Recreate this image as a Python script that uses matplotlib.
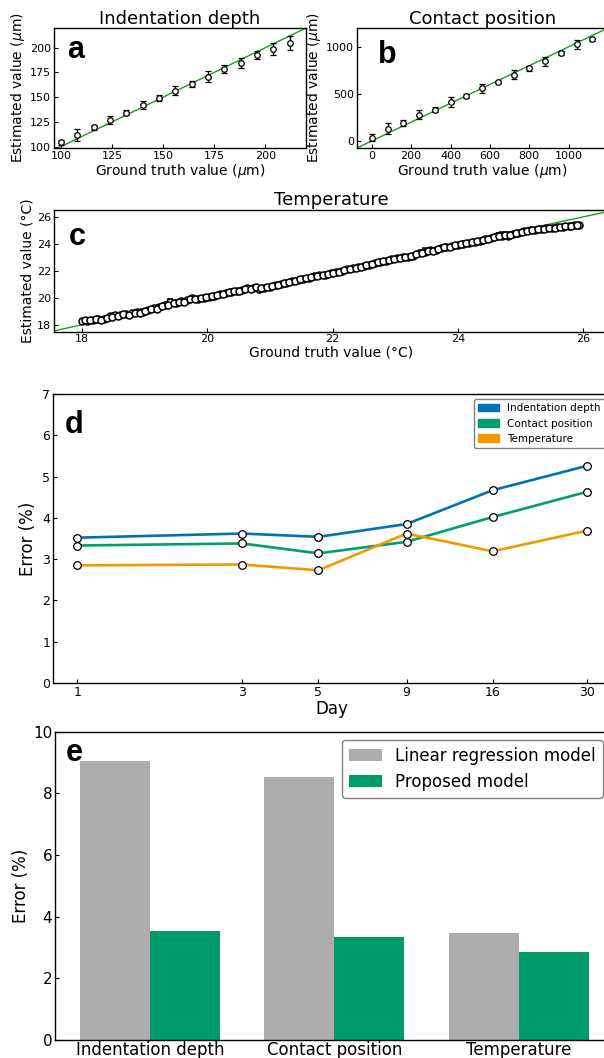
import numpy as np
import matplotlib
matplotlib.use('Agg')
import matplotlib.pyplot as plt
from matplotlib.patches import Patch
from matplotlib.ticker import NullLocator

# panel a: indentation depth
depth_true = [100, 108, 116, 124, 132, 140, 148, 156, 164, 172, 180, 188, 196, 204, 212]
depth_est = [104.1, 111.5, 119.3, 126.8, 134.2, 142.0, 149.2, 156.6, 163.4, 170.8, 178.6, 185.0, 192.9, 198.6, 204.7]
depth_err = [2.4, 6.0, 2.7, 4.2, 2.7, 3.7, 2.7, 4.6, 3.4, 5.3, 3.7, 5.0, 3.9, 6.3, 6.8]

# panel b: contact position
pos_true = [0, 80, 160, 240, 320, 400, 480, 560, 640, 720, 800, 880, 960, 1040, 1120]
pos_est = [35, 130, 193, 280, 333, 414, 477, 558, 628, 702, 772, 846, 930, 1025, 1081]
pos_err = [35, 60, 30, 45, 28, 55, 18, 50, 12, 48, 28, 50, 22, 52, 18]

# panel c: temperature (two interleaved runs)
temp_true = [18.00, 18.08, 18.17, 18.26, 18.35, 18.44, 18.52, 18.61, 18.70, 18.79,
             18.88, 18.97, 19.05, 19.14, 19.23, 19.32, 19.41, 19.50, 19.58, 19.67,
             19.76, 19.85, 19.94, 20.03, 20.11, 20.20, 20.29, 20.38, 20.47, 20.56,
             20.64, 20.73, 20.82, 20.91, 21.00, 21.09, 21.17, 21.26, 21.35, 21.44,
             21.53, 21.62, 21.70, 21.79, 21.88, 21.97, 22.06, 22.15, 22.23, 22.32,
             22.41, 22.50, 22.59, 22.68, 22.76, 22.85, 22.94, 23.03, 23.12, 23.21,
             23.29, 23.38, 23.47, 23.56, 23.65, 23.74, 23.82, 23.91, 24.00, 24.09,
             24.18, 24.27, 24.35, 24.44, 24.53, 24.62, 24.71, 24.80, 24.88, 24.97,
             25.06, 25.15, 25.24, 25.33, 25.41, 25.50, 25.59, 25.68, 25.77, 25.86,
             25.93]
temp_est = [18.30, 18.28, 18.36, 18.40, 18.45, 18.62, 18.70, 18.74, 18.80, 18.86,
            18.92, 18.95, 19.10, 19.22, 19.32, 19.45, 19.68, 19.62, 19.75, 19.82,
            19.95, 19.92, 20.00, 20.06, 20.15, 20.30, 20.38, 20.45, 20.48, 20.55,
            20.70, 20.72, 20.68, 20.75, 20.80, 20.92, 21.02, 21.12, 21.25, 21.32,
            21.42, 21.50, 21.58, 21.66, 21.72, 21.82, 21.90, 22.00, 22.10, 22.20,
            22.28, 22.36, 22.45, 22.55, 22.66, 22.76, 22.86, 22.92, 23.00, 23.05,
            23.12, 23.30, 23.42, 23.55, 23.52, 23.70, 23.78, 23.85, 23.95, 24.02,
            24.08, 24.15, 24.25, 24.35, 24.42, 24.55, 24.62, 24.60, 24.72, 24.82,
            24.92, 25.00, 25.05, 25.10, 25.15, 25.18, 25.22, 25.28, 25.32, 25.38,
            25.42]
temp_err = [0.10, 0.12, 0.10, 0.15, 0.12, 0.10, 0.14, 0.12, 0.18, 0.12,
            0.15, 0.20, 0.12, 0.10, 0.15, 0.12, 0.20, 0.15, 0.12, 0.10,
            0.15, 0.12, 0.10, 0.14, 0.12, 0.15, 0.10, 0.12, 0.15, 0.12,
            0.18, 0.15, 0.12, 0.15, 0.10, 0.12, 0.10, 0.12, 0.15, 0.10,
            0.12, 0.10, 0.14, 0.12, 0.10, 0.12, 0.10, 0.12, 0.10, 0.12,
            0.10, 0.12, 0.10, 0.10, 0.12, 0.10, 0.12, 0.10, 0.10, 0.12,
            0.15, 0.12, 0.25, 0.15, 0.18, 0.15, 0.12, 0.15, 0.12, 0.15,
            0.12, 0.10, 0.12, 0.15, 0.12, 0.15, 0.25, 0.18, 0.15, 0.12,
            0.15, 0.12, 0.10, 0.12, 0.10, 0.12, 0.10, 0.12, 0.10, 0.12,
            0.10]
temp_true2 = [18.04, 18.13, 18.22, 18.30, 18.39, 18.48, 18.57, 18.66, 18.75, 18.84,
              18.92, 19.01, 19.10, 19.19, 19.28, 19.37, 19.46, 19.54, 19.63, 19.72,
              19.81, 19.90, 19.98, 20.07, 20.16, 20.25, 20.34, 20.42, 20.51, 20.60,
              20.69, 20.78, 20.86, 20.95, 21.04, 21.13, 21.22, 21.31, 21.40, 21.48,
              21.57, 21.66, 21.75, 21.84, 21.92, 22.01, 22.10, 22.19, 22.28, 22.37,
              22.46, 22.54, 22.63, 22.72, 22.81, 22.90, 22.98, 23.07, 23.16, 23.25,
              23.34, 23.43, 23.52, 23.60, 23.69, 23.78, 23.87, 23.96, 24.05, 24.13,
              24.22, 24.31, 24.40, 24.49, 24.58, 24.66, 24.75, 24.84, 24.93, 25.02,
              25.10, 25.19, 25.28, 25.37, 25.46, 25.55, 25.64, 25.72, 25.81, 25.90]
temp_est2 = [18.34, 18.32, 18.42, 18.38, 18.52, 18.58, 18.66, 18.78, 18.76, 18.90,
             18.88, 19.02, 19.18, 19.20, 19.38, 19.50, 19.60, 19.72, 19.70, 19.88,
             19.90, 19.96, 20.04, 20.10, 20.22, 20.26, 20.40, 20.50, 20.52, 20.62,
             20.66, 20.78, 20.70, 20.82, 20.86, 20.98, 21.08, 21.20, 21.28, 21.36,
             21.46, 21.56, 21.62, 21.70, 21.78, 21.86, 21.95, 22.05, 22.16, 22.24,
             22.32, 22.40, 22.50, 22.62, 22.70, 22.82, 22.88, 22.96, 23.02, 23.10,
             23.22, 23.36, 23.48, 23.50, 23.62, 23.74, 23.80, 23.90, 23.98, 24.05,
             24.12, 24.20, 24.30, 24.38, 24.50, 24.58, 24.68, 24.66, 24.78, 24.88,
             24.95, 25.02, 25.08, 25.12, 25.16, 25.20, 25.25, 25.30, 25.35, 25.40]
temp_err2 = [0.12, 0.10, 0.14, 0.12, 0.10, 0.15, 0.12, 0.10, 0.15, 0.12,
             0.18, 0.12, 0.10, 0.15, 0.12, 0.20, 0.15, 0.12, 0.10, 0.14,
             0.12, 0.15, 0.10, 0.12, 0.12, 0.10, 0.15, 0.12, 0.10, 0.14,
             0.12, 0.18, 0.15, 0.12, 0.10, 0.12, 0.10, 0.12, 0.10, 0.12,
             0.10, 0.12, 0.10, 0.12, 0.10, 0.10, 0.12, 0.10, 0.12, 0.10,
             0.12, 0.10, 0.12, 0.10, 0.12, 0.10, 0.10, 0.12, 0.10, 0.12,
             0.12, 0.20, 0.15, 0.22, 0.15, 0.12, 0.15, 0.12, 0.15, 0.12,
             0.10, 0.12, 0.15, 0.12, 0.15, 0.20, 0.18, 0.22, 0.12, 0.15,
             0.12, 0.10, 0.12, 0.10, 0.12, 0.10, 0.12, 0.10, 0.12, 0.10]

# panel d: error over days
days = [1, 3, 5, 9, 16, 30]
err_depth = [3.52, 3.62, 3.54, 3.85, 4.67, 5.26]
err_pos = [3.33, 3.38, 3.14, 3.42, 4.02, 4.63]
err_temp = [2.85, 2.87, 2.73, 3.62, 3.19, 3.69]

# panel e: model comparison
targets = ['Indentation depth', 'Contact position', 'Temperature']
err_linear = [9.05, 8.53, 3.47]
err_proposed = [3.53, 3.34, 2.85]

W, H = 604, 1058
fig = plt.figure(figsize=(W / 100, H / 100), dpi=100)


def px_axes(l, t, r, b):
    return fig.add_axes([l / W, 1 - b / H, (r - l) / W, (b - t) / H])


def style(ax, size):
    ax.tick_params(direction='in', length=3, pad=2, labelsize=size)
    for s in ax.spines.values():
        s.set_linewidth(1.0)


green_line = '#1f9a24'
letter_font = dict(family='Liberation Sans', weight='bold', size=22)
pt_style = dict(fmt='o', mfc='white', mec='black', ecolor='black', elinewidth=1.0, zorder=2)

# a
ax = px_axes(54, 28, 306, 148)
ax.plot([90, 230], [90, 230], color=green_line, lw=1.0, zorder=1)
ax.errorbar(depth_true, depth_est, yerr=depth_err, ms=4, mew=0.9, capsize=2.5, **pt_style)
ax.set_xlim(96.5, 220)
ax.set_ylim(98.5, 220)
ax.set_xticks([100, 125, 150, 175, 200])
ax.set_yticks([100, 125, 150, 175, 200])
style(ax, 8)
ax.set_title('Indentation depth', fontsize=13, pad=3)
ax.set_xlabel('Ground truth value ($\\mu$m)', fontsize=10, labelpad=1)
ax.set_ylabel('Estimated value ($\\mu$m)', fontsize=10, labelpad=2)
ax.text(0.052, 0.75, 'a', transform=ax.transAxes, va='baseline', **letter_font)

# b
ax = px_axes(357, 28, 608, 148)
ax.plot([-200, 1300], [-200, 1300], color=green_line, lw=1.0, zorder=1)
ax.errorbar(pos_true, pos_est, yerr=pos_err, ms=4, mew=0.9, capsize=2.5, **pt_style)
ax.set_xlim(-75, 1200)
ax.set_ylim(-75, 1200)
ax.set_xticks([0, 200, 400, 600, 800, 1000])
ax.set_yticks([0, 500, 1000])
style(ax, 8)
ax.set_title('Contact position', fontsize=13, pad=3)
ax.set_xlabel('Ground truth value ($\\mu$m)', fontsize=10, labelpad=1)
ax.set_ylabel('Estimated value ($\\mu$m)', fontsize=10, labelpad=2)
ax.text(0.084, 0.71, 'b', transform=ax.transAxes, va='baseline', **letter_font)

# c
ax = px_axes(54, 209.5, 608, 331.5)
ax.plot([17, 27], [17, 27], color=green_line, lw=1.0, zorder=1)
ax.errorbar(temp_true, temp_est, yerr=temp_err, ms=5, mew=1.1, capsize=2, **pt_style)
ax.errorbar(temp_true2, temp_est2, yerr=temp_err2, ms=5, mew=1.1, capsize=2, **pt_style)
ax.set_xlim(17.55, 26.4)
ax.set_ylim(17.5, 26.55)
ax.set_xticks([18, 20, 22, 24, 26])
ax.set_yticks([18, 20, 22, 24, 26])
style(ax, 8)
ax.set_title('Temperature', fontsize=13, pad=3)
ax.set_xlabel('Ground truth value (°C)', fontsize=10, labelpad=1)
ax.set_ylabel('Estimated value (°C)', fontsize=10, labelpad=2)
ax.text(0.026, 0.71, 'c', transform=ax.transAxes, va='baseline', **letter_font)

# d
c_blue, c_green, c_orange = '#0072B2', '#009E73', '#EF9B00'
ax = px_axes(53, 394, 610, 683)
for vals, col in [(err_depth, c_blue), (err_pos, c_green), (err_temp, c_orange)]:
    ax.plot(days, vals, '-o', color=col, lw=1.9, ms=5.5, mfc='white', mec='black', mew=0.9)
ax.set_xscale('log')
ax.set_xlim(0.85, 35)
ax.set_xticks(days)
ax.set_xticklabels([str(d) for d in days])
ax.xaxis.set_minor_locator(NullLocator())
ax.set_ylim(0, 7)
ax.set_yticks(range(8))
style(ax, 9)
ax.set_xlabel('Day', fontsize=12, labelpad=1)
ax.set_ylabel('Error (%)', fontsize=12, labelpad=4)
handles = [Patch(color=c_blue, label='Indentation depth'),
           Patch(color=c_green, label='Contact position'),
           Patch(color=c_orange, label='Temperature')]
leg = ax.legend(handles=handles, loc='upper right', fontsize=7.5, framealpha=1)
leg.get_frame().set_edgecolor('0.5')
ax.text(0.0215, 0.866, 'd', transform=ax.transAxes, va='baseline', **letter_font)

# e
ax = px_axes(55, 731.7, 611, 1040)
x = np.arange(len(targets))
w = 0.38
ax.bar(x - w / 2, err_linear, w, color='#adadad', label='Linear regression model')
ax.bar(x + w / 2, err_proposed, w, color='#009B6B', label='Proposed model')
ax.set_xlim(-0.515, 2.5)
ax.set_ylim(0, 10)
ax.set_xticks(x)
ax.set_xticklabels(targets)
ax.set_yticks([0, 2, 4, 6, 8, 10])
style(ax, 11)
ax.tick_params(axis='x', labelsize=12, length=0, pad=1)
ax.set_ylabel('Error (%)', fontsize=12, labelpad=2)
leg = ax.legend(loc='upper right', fontsize=12, framealpha=1)
leg.get_frame().set_edgecolor('0.5')
ax.text(0.019, 0.905, 'e', transform=ax.transAxes, va='baseline', **letter_font)

fig.savefig('out.png', dpi=100)
